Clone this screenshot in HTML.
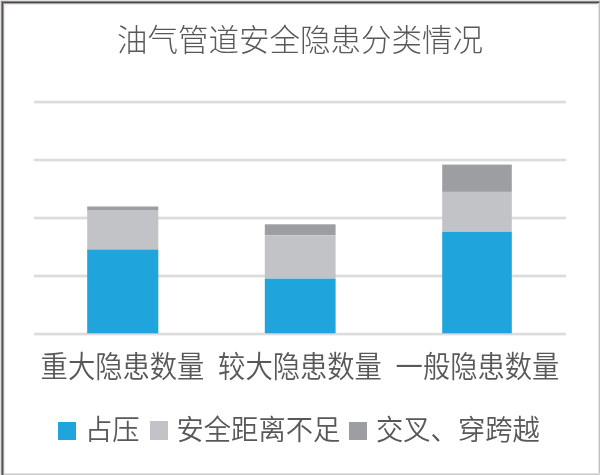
<!DOCTYPE html>
<html lang="zh-CN">
<head>
<meta charset="utf-8">
<title>油气管道安全隐患分类情况</title>
<style>
html,body{margin:0;padding:0;background:#fff;}
body{width:600px;height:475px;position:relative;overflow:hidden;
  font-family:"Liberation Sans","Noto Sans CJK SC",sans-serif;font-weight:300;color:#585858;}
.a{position:absolute;}
.t{position:absolute;white-space:nowrap;line-height:1;filter:blur(0.4px);}
.grid{position:absolute;left:34px;width:532px;height:2px;background:#dcdcdf;box-shadow:0 -1px 0 #f4f4f5,0 1px 0 #f1f1f2;}
</style>
</head>
<body>
<!-- frame -->
<div class="a" style="left:0;top:0;width:600px;height:1px;background:#e0e0e0"></div>
<div class="a" style="left:0;top:0;width:1px;height:475px;background:#e0e0e0"></div>
<div class="a" style="left:1px;top:1px;width:598px;height:1px;background:#8a8888"></div>
<div class="a" style="left:1px;top:1px;width:1px;height:474px;background:#8a8888"></div>
<div class="a" style="left:2px;top:2px;width:597px;height:1px;background:#4b4846"></div>
<div class="a" style="left:2px;top:2px;width:1px;height:473px;background:#575352"></div>
<div class="a" style="left:3px;top:3px;width:595px;height:1px;background:#a5a4a4"></div>
<div class="a" style="left:3px;top:3px;width:1px;height:472px;background:#a09e9e"></div>
<div class="a" style="left:4px;top:4px;width:594px;height:1px;background:#ededed"></div>
<div class="a" style="left:4px;top:4px;width:1px;height:471px;background:#eaeaea"></div>
<div class="a" style="left:598px;top:3px;width:1px;height:472px;background:#e2e2e2"></div>
<div class="a" style="left:599px;top:3px;width:1px;height:472px;background:#c2c2c2"></div>
<div class="a" style="left:599px;top:1px;width:1px;height:2px;background:#a2a0a0"></div>
<div class="a" style="left:4px;top:473px;width:596px;height:1px;background:#e2e2e2"></div>
<div class="a" style="left:4px;top:474px;width:596px;height:1px;background:#c8c8c8"></div>

<!-- title -->
<div class="t" style="left:0;width:600px;top:25px;text-align:center;font-size:30.5px;">油气管道安全隐患分类情况</div>

<!-- gridlines -->
<div class="grid" style="top:101px"></div>
<div class="grid" style="top:159px"></div>
<div class="grid" style="top:217px"></div>
<div class="grid" style="top:275px"></div>
<div class="grid" style="top:333px"></div>

<!-- bars -->
<svg class="a" style="left:0;top:0;filter:blur(0.3px)" width="600" height="475" viewBox="0 0 600 475">
<g shape-rendering="geometricPrecision">
<rect x="87.2" y="206.5" width="71.1" height="3.5" fill="#9c9ea2"/>
<rect x="87.2" y="210" width="71.1" height="39.5" fill="#c2c3c7"/>
<rect x="87.2" y="249.5" width="71.1" height="83.8" fill="#1fa4db"/>
<rect x="264.8" y="224.3" width="70.8" height="11.1" fill="#9c9ea2"/>
<rect x="264.8" y="235.4" width="70.8" height="43.3" fill="#c2c3c7"/>
<rect x="264.8" y="278.7" width="70.8" height="54.6" fill="#1fa4db"/>
<rect x="442.2" y="164.6" width="69.6" height="27.3" fill="#9c9ea2"/>
<rect x="442.2" y="191.9" width="69.6" height="39.9" fill="#c2c3c7"/>
<rect x="442.2" y="231.8" width="69.6" height="101.5" fill="#1fa4db"/>
</g>
</svg>
<!-- category labels -->
<div class="t" style="left:34px;width:177px;top:353px;text-align:center;font-size:27.3px;font-weight:350;transform:scaleY(1.07);transform-origin:50% 45%;">重大隐患数量</div>
<div class="t" style="left:211px;width:178px;top:353px;text-align:center;font-size:27.3px;font-weight:350;transform:scaleY(1.07);transform-origin:50% 45%;">较大隐患数量</div>
<div class="t" style="left:389px;width:177px;top:353px;text-align:center;font-size:27.3px;font-weight:350;transform:scaleY(1.07);transform-origin:50% 45%;">一般隐患数量</div>

<!-- legend -->
<div class="a" style="left:58px;top:422px;width:18px;height:18px;background:#1fa4db"></div>
<div class="t" style="left:85px;top:416.8px;transform:scaleY(1.04);transform-origin:50% 45%;font-size:27.3px;font-weight:350;">占压</div>
<div class="a" style="left:150px;top:421px;width:18px;height:19px;background:#c2c3c7"></div>
<div class="t" style="left:176.5px;top:416.8px;transform:scaleY(1.04);transform-origin:50% 45%;font-size:27.3px;font-weight:350;">安全距离不足</div>
<div class="a" style="left:349px;top:422px;width:18px;height:18px;background:#9c9ea2"></div>
<div class="t" style="left:376px;top:416.8px;transform:scaleY(1.04);transform-origin:50% 45%;font-size:27.3px;font-weight:350;">交叉、穿跨越</div>
</body>
</html>
